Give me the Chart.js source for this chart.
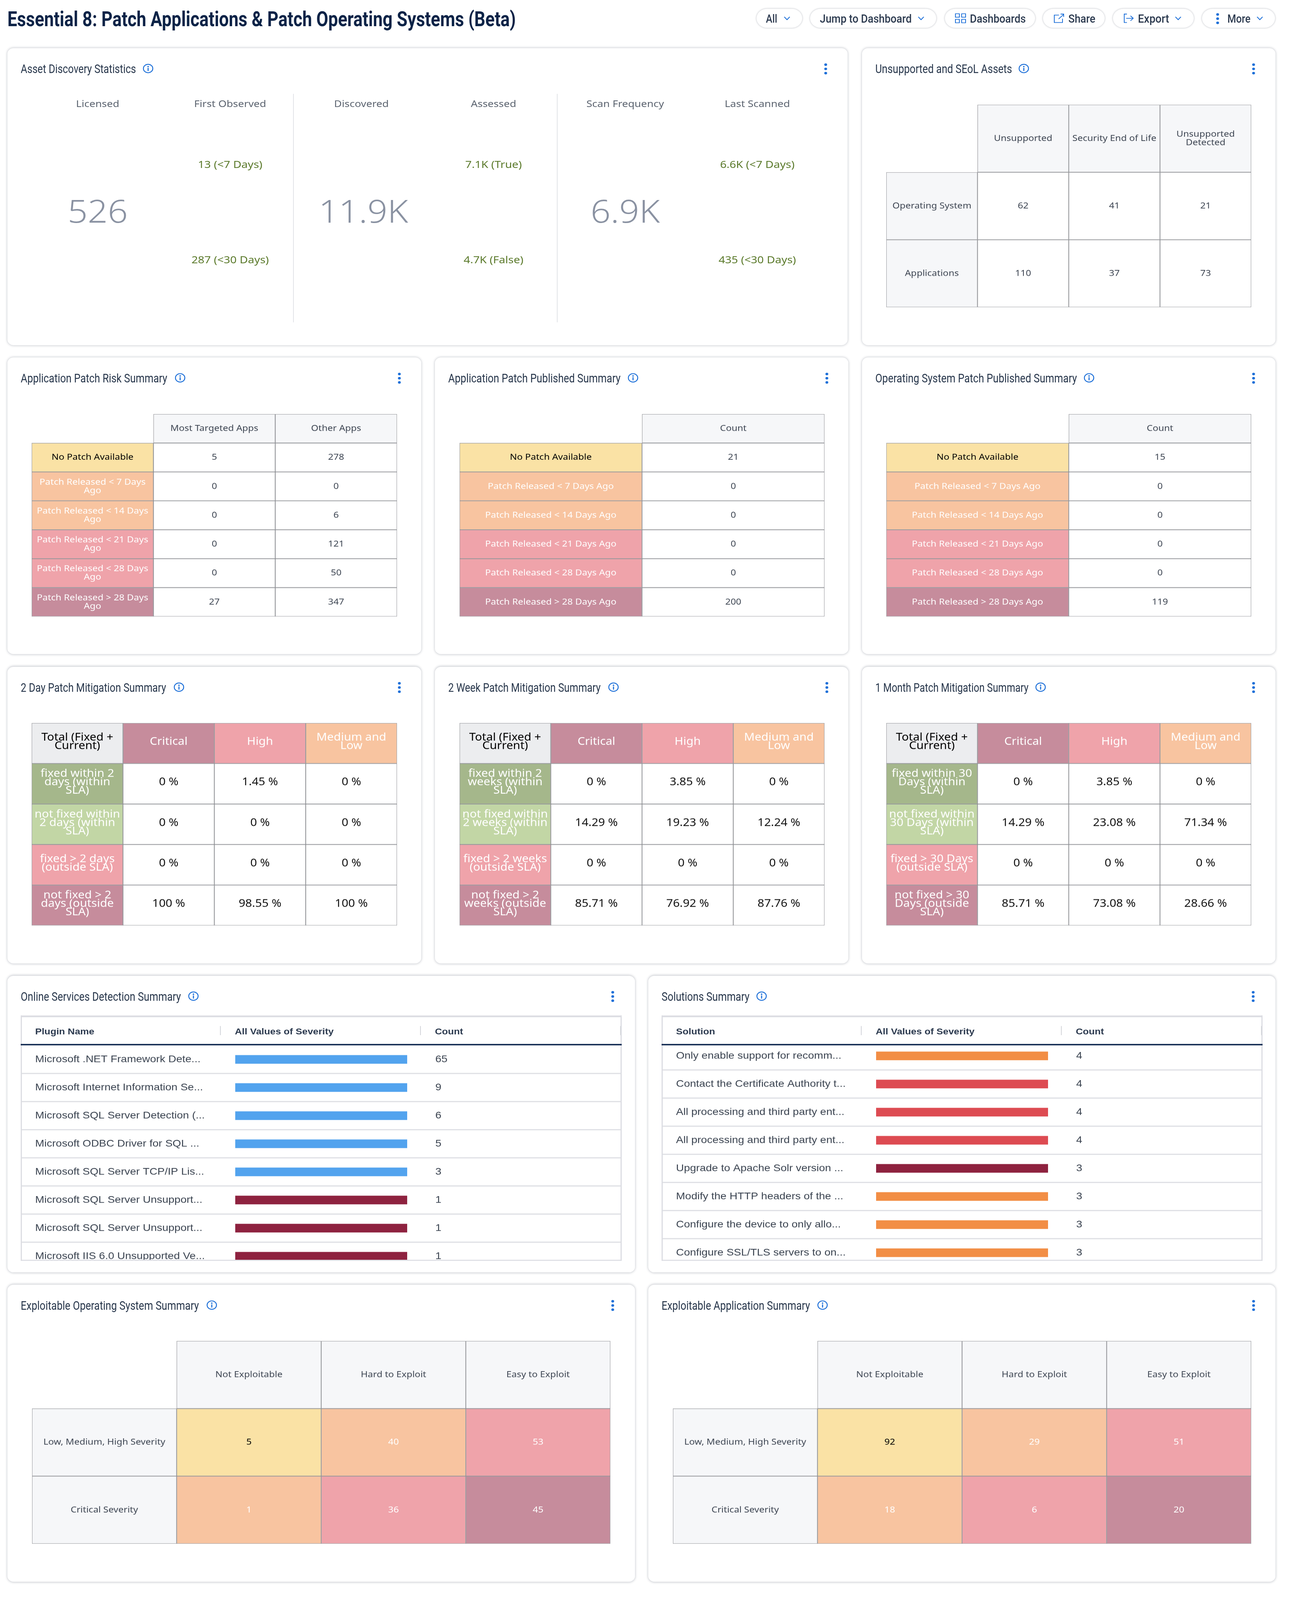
<!DOCTYPE html>
<html>
<head>
<meta charset="utf-8">
<title>Essential 8: Patch Applications & Patch Operating Systems (Beta)</title>
<script src="https://cdn.jsdelivr.net/npm/chart.js@4/dist/chart.umd.min.js"></script>
<style>
  html, body { margin: 0; padding: 0; background: #fff; overflow: hidden; }
  #page { position: relative; width: 3314px; height: 4552px; overflow: hidden; font-family: "Noto Sans", sans-serif; transform-origin: 0 0; }
  #page > *, .card > * { position: absolute; }
  .mid { transform: translate(-50%, -50%); white-space: nowrap; }
  .card { background: #fff; border-radius: 16px; box-shadow: 0 0 7px rgba(40, 50, 70, .32); }
  .narrow { font-family: Roboto, sans-serif; white-space: nowrap; transform-origin: left center; }
  .title { font-size: 34px; color: #27364b; line-height: 40px; }
  .btn { background: #fff; border-radius: 27px; box-shadow: 0 0 5px rgba(40, 50, 70, .35); }
  .btnText { font-size: 32px; font-weight: 500; color: #2c3a4f; line-height: 40px; }
  canvas { display: block; }
</style>
</head>
<body>
<div id="page"></div>
<script>
// --- KPI panel
const kpiHeaders = ["Licensed", "First Observed", "Discovered", "Assessed", "Scan Frequency", "Last Scanned"];
const kpiTotals = ["526", "11.9K", "6.9K"];
const kpiUpper = ["13 (<7 Days)", "7.1K (True)", "6.6K (<7 Days)"];
const kpiLower = ["287 (<30 Days)", "4.7K (False)", "435 (<30 Days)"];

// --- Unsupported and SEoL
const unsupportedColumns = ["Unsupported", "Security End of Life", "Unsupported\nDetected"];
const unsupportedRows = ["Operating System", "Applications"];
const unsupportedOs = [62, 41, 21];
const unsupportedApps = [110, 37, 73];

// --- Patch summaries
const riskColumns = ["Most Targeted Apps", "Other Apps"];
const riskRows = [
  "No Patch Available",
  "Patch Released < 7 Days\nAgo",
  "Patch Released < 14 Days\nAgo",
  "Patch Released < 21 Days\nAgo",
  "Patch Released < 28 Days\nAgo",
  "Patch Released > 28 Days\nAgo",
];
const riskMostTargeted = [5, 0, 0, 0, 0, 27];
const riskOther = [278, 0, 6, 121, 50, 347];

const publishedRows = [
  "No Patch Available",
  "Patch Released < 7 Days Ago",
  "Patch Released < 14 Days Ago",
  "Patch Released < 21 Days Ago",
  "Patch Released < 28 Days Ago",
  "Patch Released > 28 Days Ago",
];
const appPublishedCounts = [21, 0, 0, 0, 0, 200];
const osPublishedCounts = [15, 0, 0, 0, 0, 119];

// --- Mitigation summaries
const mitigationColumns = ["Total (Fixed +\nCurrent)", "Critical", "High", "Medium and\nLow"];
const twoDayRows = ["fixed within 2\ndays (within\nSLA)", "not fixed within\n2 days (within\nSLA)", "fixed > 2 days\n(outside SLA)", "not fixed > 2\ndays (outside\nSLA)"];
const twoDayCritical = [0, 0, 0, 100];
const twoDayHigh = [1.45, 0, 0, 98.55];
const twoDayMedium = [0, 0, 0, 100];
const twoWeekRows = ["fixed within 2\nweeks (within\nSLA)", "not fixed within\n2 weeks (within\nSLA)", "fixed > 2 weeks\n(outside SLA)", "not fixed > 2\nweeks (outside\nSLA)"];
const twoWeekCritical = [0, 14.29, 0, 85.71];
const twoWeekHigh = [3.85, 19.23, 0, 76.92];
const twoWeekMedium = [0, 12.24, 0, 87.76];
const oneMonthRows = ["fixed within 30\nDays (within\nSLA)", "not fixed within\n30 Days (within\nSLA)", "fixed > 30 Days\n(outside SLA)", "not fixed > 30\nDays (outside\nSLA)"];
const oneMonthCritical = [0, 14.29, 0, 85.71];
const oneMonthHigh = [3.85, 23.08, 0, 73.08];
const oneMonthMedium = [0, 71.34, 0, 28.66];

// --- Severity lists
const onlineNames = [
  "Microsoft .NET Framework Dete...",
  "Microsoft Internet Information Se...",
  "Microsoft SQL Server Detection (...",
  "Microsoft ODBC Driver for SQL ...",
  "Microsoft SQL Server TCP/IP Lis...",
  "Microsoft SQL Server Unsupport...",
  "Microsoft SQL Server Unsupport...",
  "Microsoft IIS 6.0 Unsupported Ve...",
];
const onlineSeverity = ["info", "info", "info", "info", "info", "critical", "critical", "critical"];
const onlineShare = [100, 100, 100, 100, 100, 100, 100, 100];
const onlineCounts = [65, 9, 6, 5, 3, 1, 1, 1];

const solutionNames = [
  "Only enable support for recomm...",
  "Contact the Certificate Authority t...",
  "All processing and third party ent...",
  "All processing and third party ent...",
  "Upgrade to Apache Solr version ...",
  "Modify the HTTP headers of the ...",
  "Configure the device to only allo...",
  "Configure SSL/TLS servers to on...",
];
const solutionSeverity = ["medium", "high", "high", "high", "critical", "medium", "medium", "medium"];
const solutionShare = [100, 100, 100, 100, 100, 100, 100, 100];
const solutionCounts = [4, 4, 4, 4, 3, 3, 3, 3];

// --- Exploitability
const exploitColumns = ["Not Exploitable", "Hard to Exploit", "Easy to Exploit"];
const exploitRows = ["Low, Medium, High Severity", "Critical Severity"];
const exploitOsLower = [5, 40, 53];
const exploitOsCritical = [1, 36, 45];
const exploitAppLower = [92, 29, 51];
const exploitAppCritical = [18, 6, 20];

// colours
const HEAD = "#f6f7f9";
const WHITE = "#ffffff";
const GREY = "#ecedef";
const YELLOW = "#fae2a5";
const ORANGE = "#f8c4a0";
const PINK = "#efa3aa";
const MAUVE = "#c68c9c";
const GREEN = "#a5b78b";
const LIGHT_GREEN = "#c2d6a5";
const LINE = "rgba(70, 72, 80, .5)";
const BLUE = "#1c6fd8";
const SEVERITY_COLORS = { info: "#52a3ee", medium: "#f28e45", high: "#dd4b52", critical: "#8e223f" };

const page = document.getElementById("page");

// the browser can give a shorter viewport than asked for (it stops at 4096), keep every panel in view
const PAGE_HEIGHT = 4552;
if (innerHeight < PAGE_HEIGHT) {
  page.style.transform = `scale(1, ${innerHeight / PAGE_HEIGHT})`;
}

function add(parent, cls, css, text) {
  const el = document.createElement("div");
  if (cls) el.className = cls;
  el.style.cssText = css;
  if (text !== undefined) el.textContent = text;
  parent.appendChild(el);
  return el;
}

// no condensed font is installed, so squeeze the text to the width it has in the dashboard
function fit(el, width) {
  el.style.transform = `scaleX(${width / el.getBoundingClientRect().width})`;
}

function addSvg(parent, x, y, w, h, body) {
  const el = add(parent, "", `left:${x}px;top:${y}px;width:${w}px;height:${h}px;`);
  el.innerHTML = `<svg width="${w}" height="${h}" viewBox="0 0 ${w} ${h}" style="display:block">${body}</svg>`;
}

const dots = (cx, top, r, gap) =>
  [0, 1, 2].map((i) => `<circle cx="${cx}" cy="${top + i * gap}" r="${r}" fill="${BLUE}"/>`).join("");

function addCard(x, y, w, h, title, titleWidth, infoX, dotsX) {
  const centerY = y + 59;
  add(page, "card", `left:${x}px;top:${y}px;width:${w}px;height:${h}px;`);
  fit(add(page, "narrow title", `left:${x + 34}px;top:${centerY - 20}px;`, title), titleWidth);
  addSvg(page, infoX - 14, centerY - 15, 28, 28,
    `<circle cx="14" cy="14" r="12" fill="none" stroke="${BLUE}" stroke-width="2.4"/>` +
    `<circle cx="14" cy="8.5" r="2" fill="${BLUE}"/><rect x="12.6" y="12" width="2.8" height="9" fill="${BLUE}"/>`);
  addSvg(page, dotsX - 6, centerY - 17, 12, 34, dots(6, 5, 3.6, 12));
}

// cell text drawn at the scale positions of each table cell
const cellText = {
  id: "cellText",
  afterDatasetsDraw(chart, args, opts) {
    const { ctx, scales } = chart;
    ctx.save();
    ctx.font = `${opts.size}px "Noto Sans"`;
    ctx.textAlign = "center";
    ctx.textBaseline = "middle";
    const lift = opts.size > 24 ? 4 : 0;
    opts.texts.forEach((row, r) => {
      row.forEach((text, c) => {
        const lines = String(text).split("\n");
        const x = scales.x.getPixelForValue(c);
        const y = scales.y.getPixelForValue(r + 0.5) - lift;
        ctx.fillStyle = opts.inks[r][c];
        lines.forEach((line, i) => {
          ctx.fillText(line, x, y + (i - (lines.length - 1) / 2) * opts.lineHeight);
        });
      });
    });
    ctx.restore();
  },
};

function tableChart(x, y, w, h, texts, fills, dark, size) {
  const canvas = document.createElement("canvas");
  canvas.width = w;
  canvas.height = h;
  canvas.style.cssText = `left:${x}px;top:${y}px;width:${w}px;height:${h}px;`;
  page.appendChild(canvas);
  const inks = fills.map((row) =>
    row.map((f) => {
      if (f === YELLOW || f === GREY) return "#000000";
      if (f === HEAD || f === WHITE || !f) return dark;
      return "#ffffff";
    })
  );
  new Chart(canvas, {
    type: "bar",
    data: {
      labels: texts[0],
      datasets: texts.map((row, r) => ({
        data: row.map(() => [r, r + 1]),
        backgroundColor: fills[r].map((f) => f || "transparent"),
        borderColor: fills[r].map((f) => (f ? LINE : "transparent")),
        borderWidth: 1.5,
        borderSkipped: false,
        grouped: false,
        barPercentage: 1,
        categoryPercentage: 1,
      })),
    },
    options: {
      responsive: false,
      animation: false,
      devicePixelRatio: 1,
      layout: { padding: 0 },
      plugins: {
        legend: { display: false },
        tooltip: { enabled: false },
        cellText: { texts, inks, size, lineHeight: 24 },
      },
      scales: {
        x: { display: false },
        y: { display: false, min: 0, max: texts.length, reverse: true },
      },
    },
    plugins: [cellText],
  });
}

function columnsOf(...series) {
  return series[0].map((_, i) => series.map((s) => s[i]));
}

function gridTexts(columns, rows, values, corner) {
  return [[corner, ...columns], ...rows.map((label, i) => [label, ...values[i]])];
}

const plainFills = (cols, rows) => [
  [null, ...cols.map(() => HEAD)],
  ...rows.map(() => [HEAD, ...cols.map(() => WHITE)]),
];
const patchLadder = [YELLOW, ORANGE, ORANGE, PINK, PINK, MAUVE];
const patchFills = (cols) => [
  [null, ...cols.map(() => HEAD)],
  ...patchLadder.map((f) => [f, ...cols.map(() => WHITE)]),
];
const mitigationFills = [
  [GREY, MAUVE, PINK, ORANGE],
  [GREEN, WHITE, WHITE, WHITE],
  [LIGHT_GREEN, WHITE, WHITE, WHITE],
  [PINK, WHITE, WHITE, WHITE],
  [MAUVE, WHITE, WHITE, WHITE],
];
const exploitFills = [
  [null, HEAD, HEAD, HEAD],
  [HEAD, YELLOW, ORANGE, PINK],
  [HEAD, ORANGE, PINK, MAUVE],
];

// bars of the severity lists, names on the y axis
function listChart(x, w, clipTop, clipBottom, rowTop, barLeft, barRight, countX, names, severity, share, counts) {
  const holder = add(page, "", `left:${x}px;top:${clipTop}px;width:${w}px;height:${clipBottom - clipTop}px;overflow:hidden;`);
  const canvas = document.createElement("canvas");
  canvas.width = w;
  canvas.height = 640;
  canvas.style.cssText = `position:absolute;left:0;top:${rowTop - clipTop}px;width:${w}px;height:640px;`;
  holder.appendChild(canvas);
  const padLeft = 37;
  const rowPlugin = {
    id: "rowPlugin",
    beforeDatasetsDraw(chart) {
      const { ctx, scales } = chart;
      ctx.save();
      ctx.fillStyle = "#dcdde3";
      names.forEach((_, i) => {
        const yy = (scales.y.getPixelForValue(i) + scales.y.getPixelForValue(i + 1)) / 2;
        if (i < names.length - 1) ctx.fillRect(0, yy - 1.5, w, 3);
      });
      ctx.restore();
    },
    afterDatasetsDraw(chart) {
      const { ctx, scales } = chart;
      ctx.save();
      ctx.font = '28px "Liberation Sans"';
      ctx.fillStyle = "#3a4350";
      ctx.textAlign = "left";
      ctx.textBaseline = "middle";
      counts.forEach((count, i) => {
        ctx.fillText(String(count), countX - x, scales.y.getPixelForValue(i));
      });
      ctx.restore();
    },
  };
  new Chart(canvas, {
    type: "bar",
    data: {
      labels: names,
      datasets: [
        {
          data: share,
          backgroundColor: severity.map((s) => SEVERITY_COLORS[s]),
          barThickness: 24,
          categoryPercentage: 1,
        },
      ],
    },
    options: {
      indexAxis: "y",
      responsive: false,
      animation: false,
      devicePixelRatio: 1,
      layout: { padding: { left: padLeft, right: x + w - barRight, top: 0, bottom: 0 } },
      plugins: { legend: { display: false }, tooltip: { enabled: false } },
      scales: {
        x: { display: false, min: 0, max: 100 },
        y: {
          grid: { display: false },
          border: { display: false },
          afterFit(scale) { scale.width = barLeft - x - padLeft; },
          ticks: {
            autoSkip: false,
            crossAlign: "far",
            padding: 0,
            color: "#3a4350",
            font: { family: "Liberation Sans", size: 28, lineHeight: 0 },
          },
        },
      },
    },
    plugins: [rowPlugin],
  });
}

function listFrame(x, right, solutionColumn, col1, col2, end) {
  const top = 2889;
  const bottom = 3587;
  add(page, "", `left:${x}px;top:${top}px;width:${right - x}px;height:5px;background:#dcdde3;`);
  add(page, "", `left:${x}px;top:${top}px;width:3px;height:${bottom - top}px;background:#dcdde3;`);
  add(page, "", `left:${right - 3}px;top:${top}px;width:3px;height:${bottom - top}px;background:#dcdde3;`);
  add(page, "", `left:${x}px;top:${bottom - 3}px;width:${right - x}px;height:3px;background:#dcdde3;`);
  add(page, "", `left:${x}px;top:2970px;width:${right - x}px;height:4px;background:#0f2850;`);
  [col1 - 2, col2 - 2, end].forEach((dx) => {
    add(page, "", `left:${dx}px;top:2919px;width:2px;height:26px;background:#d3d5da;`);
  });
  const headStyle = (left) => `left:${left}px;top:2914px;font:bold 25px/40px "Liberation Sans";color:#2c3a4f;white-space:nowrap;`;
  add(page, "", headStyle(x + 37), solutionColumn);
  add(page, "", headStyle(col1 + 36), "All Values of Severity");
  add(page, "", headStyle(col2 + 36), "Count");
}

// --- header
fit(add(page, "narrow", `left:19px;top:18px;font-size:60px;font-weight:700;line-height:72px;color:#0c2347;`,
  "Essential 8: Patch Applications & Patch Operating Systems (Beta)"), 1301);

const chev = (x) =>
  addSvg(page, x - 10, 42, 20, 20, `<path d="M3 6 L10 14 L17 6" fill="none" stroke="${BLUE}" stroke-width="2.2"/>`);
[[1936, 117], [2073, 323], [2418, 231], [2669, 158], [2848, 207], [3076, 187]].forEach(([x, w]) => {
  add(page, "btn", `left:${x}px;top:25px;width:${w}px;height:54px;`);
});
[["All", 1960, 29], ["Jump to Dashboard", 2098, 235], ["Dashboards", 2482, 143], ["Share", 2734, 69], ["Export", 2912, 80], ["More", 3141, 59]].forEach(([t, x, w]) => {
  fit(add(page, "narrow btnText", `left:${x}px;top:33px;`, t), w);
});
[2014, 2357, 3015, 3224].forEach(chev);
addSvg(page, 2444, 38, 28, 28,
  [[1, 1], [17, 1], [1, 17], [17, 17]].map(([a, b]) => `<rect x="${a}" y="${b}" width="10" height="10" fill="none" stroke="${BLUE}" stroke-width="2"/>`).join(""));
addSvg(page, 2696, 38, 28, 28,
  `<path d="M14 5 H2 V26 H23 V15 M13 16 L26 3 M18 2 H26 V10" fill="none" stroke="${BLUE}" stroke-width="2"/>`);
addSvg(page, 2875, 38, 28, 28,
  `<path d="M9 2 H2 V26 H9 M7 14 H25 M18 7 L25 14 L18 21" fill="none" stroke="${BLUE}" stroke-width="2"/>`);
addSvg(page, 3110, 36, 12, 34, dots(6, 5, 3.6, 12));

// --- row 1
addCard(19, 137, 2150, 845, "Asset Discovery Statistics", 295, 379, 2113);
[750, 1425].forEach((x) => add(page, "", `left:${x}px;top:267px;width:2px;height:650px;background:#e2e4e8;`));
const groupX = [[250, 589], [925, 1263], [1600, 1938]];
groupX.forEach(([left, right], i) => {
  add(page, "mid", `left:${left}px;top:294px;font-size:27px;color:#5c6470;`, kpiHeaders[i * 2]);
  add(page, "mid", `left:${right}px;top:294px;font-size:27px;color:#5c6470;`, kpiHeaders[i * 2 + 1]);
  add(page, "mid", `left:${left + (i === 1 ? 5 : 0)}px;top:598px;font-size:90px;font-weight:300;color:#8a92a2;`, kpiTotals[i]);
  add(page, "mid", `left:${right}px;top:466px;font-size:29px;color:#5b7a2b;`, kpiUpper[i]);
  add(page, "mid", `left:${right}px;top:738px;font-size:29px;color:#5b7a2b;`, kpiLower[i]);
});

addCard(2206, 137, 1058, 845, "Unsupported and SEoL Assets", 350, 2620, 3208);
tableChart(2268, 298, 934, 576,
  gridTexts(unsupportedColumns, unsupportedRows, [unsupportedOs, unsupportedApps], ""),
  plainFills(unsupportedColumns, unsupportedRows), "#3d4552", 24);

// --- row 2
addCard(19, 1017, 1059, 844, "Application Patch Risk Summary", 375, 461, 1022);
tableChart(81, 1178, 935, 576,
  gridTexts(riskColumns, riskRows, columnsOf(riskMostTargeted, riskOther), ""),
  patchFills(riskColumns), "#3d4552", 24);

addCard(1113, 1017, 1058, 844, "Application Patch Published Summary", 441, 1620, 2116);
tableChart(1176, 1178, 934, 576,
  gridTexts(["Count"], publishedRows, columnsOf(appPublishedCounts), ""),
  patchFills(["Count"]), "#3d4552", 24);

addCard(2206, 1017, 1058, 844, "Operating System Patch Published Summary", 516, 2787, 3208);
tableChart(2268, 1178, 934, 576,
  gridTexts(["Count"], publishedRows, columnsOf(osPublishedCounts), ""),
  patchFills(["Count"]), "#3d4552", 24);

// --- row 3
const pct = (rows) => rows.map((row) => row.map((v) => `${v} %`));
addCard(19, 1897, 1059, 844, "2 Day Patch Mitigation Summary", 372, 458, 1022);
tableChart(81, 2057, 935, 576,
  gridTexts(mitigationColumns.slice(1), twoDayRows, pct(columnsOf(twoDayCritical, twoDayHigh, twoDayMedium)), mitigationColumns[0]),
  mitigationFills, "#111111", 30);

addCard(1113, 1897, 1058, 844, "2 Week Patch Mitigation Summary", 390, 1570, 2116);
tableChart(1176, 2057, 934, 576,
  gridTexts(mitigationColumns.slice(1), twoWeekRows, pct(columnsOf(twoWeekCritical, twoWeekHigh, twoWeekMedium)), mitigationColumns[0]),
  mitigationFills, "#111111", 30);

addCard(2206, 1897, 1058, 844, "1 Month Patch Mitigation Summary", 392, 2663, 3208);
tableChart(2268, 2057, 934, 576,
  gridTexts(mitigationColumns.slice(1), oneMonthRows, pct(columnsOf(oneMonthCritical, oneMonthHigh, oneMonthMedium)), mitigationColumns[0]),
  mitigationFills, "#111111", 30);

// --- row 4
addCard(19, 2776, 1606, 844, "Online Services Detection Summary", 410, 495, 1568);
listFrame(53, 1591, "Plugin Name", 565, 1077, 1587);
listChart(53, 1538, 2974, 3584, 2974, 602, 1042, 1114, onlineNames, onlineSeverity, onlineShare, onlineCounts);

addCard(1659, 2776, 1605, 844, "Solutions Summary", 225, 1949, 3207);
listFrame(1693, 3231, "Solution", 2205, 2717, 3227);
listChart(1693, 1538, 2974, 3584, 2964, 2242, 2682, 2754, solutionNames, solutionSeverity, solutionShare, solutionCounts);

// --- row 5
addCard(19, 3655, 1606, 845, "Exploitable Operating System Summary", 456, 542, 1568);
tableChart(82, 3815, 1480, 577,
  gridTexts(exploitColumns, exploitRows, [exploitOsLower, exploitOsCritical], ""),
  exploitFills, "#3d4552", 24);

addCard(1659, 3655, 1605, 845, "Exploitable Application Summary", 380, 2105, 3208);
tableChart(1722, 3815, 1480, 577,
  gridTexts(exploitColumns, exploitRows, [exploitAppLower, exploitAppCritical], ""),
  exploitFills, "#3d4552", 24);
</script>
</body>
</html>
